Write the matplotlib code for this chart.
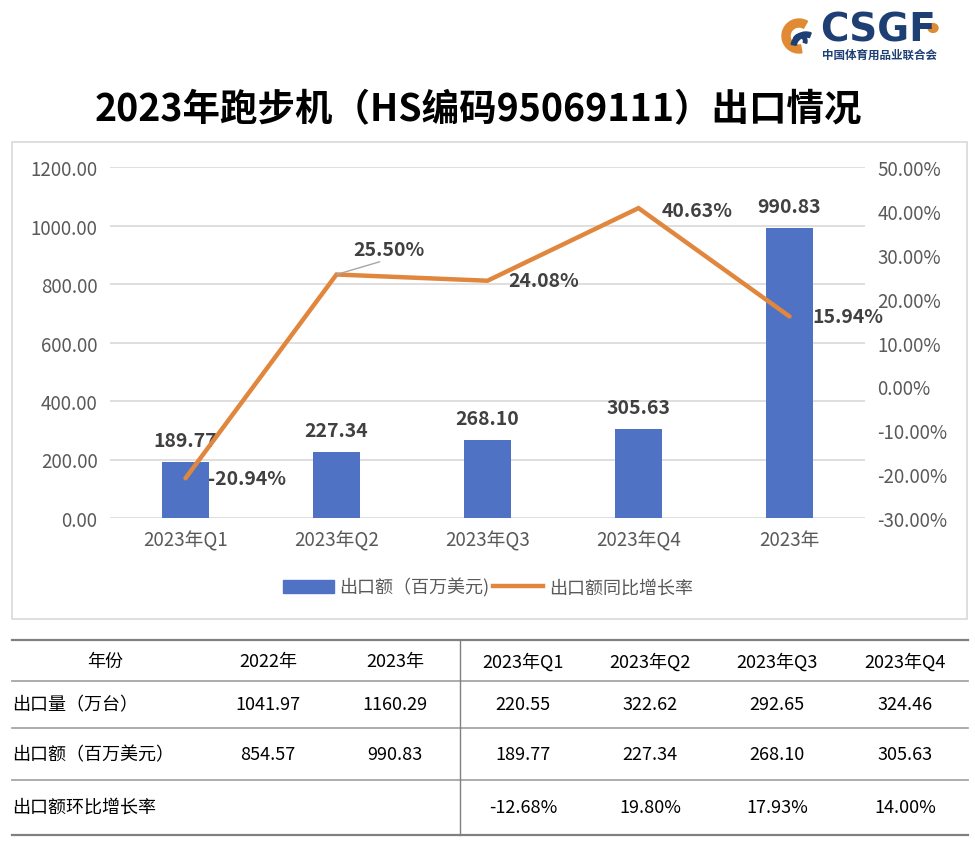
import matplotlib.pyplot as plt
from matplotlib.patches import Rectangle, Wedge, Circle, Patch
from matplotlib.lines import Line2D
from matplotlib.ticker import FuncFormatter

plt.rcParams['font.family'] = ['Noto Sans CJK SC', 'DejaVu Sans']

# chart data
categories = ['2023年Q1', '2023年Q2', '2023年Q3', '2023年Q4', '2023年']
export_value = [189.77, 227.34, 268.10, 305.63, 990.83]   # 百万美元
yoy_growth = [-20.94, 25.50, 24.08, 40.63, 15.94]          # %

# table data
table_header = ['年份', '2022年', '2023年', '2023年Q1', '2023年Q2', '2023年Q3', '2023年Q4']
table_rows = [
    ['出口量（万台）', '1041.97', '1160.29', '220.55', '322.62', '292.65', '324.46'],
    ['出口额（百万美元）', '854.57', '990.83', '189.77', '227.34', '268.10', '305.63'],
    ['出口额环比增长率', '', '', '-12.68%', '19.80%', '17.93%', '14.00%'],
]

W, H = 975, 853
BAR_COLOR = '#4F72C4'
LINE_COLOR = '#E0873D'
TEXT_DARK = '#404040'
TICK_GREY = '#595959'
GRID_GREY = '#D9D9D9'
NAVY = '#1E3F73'
LOGO_ORANGE = '#E08A33'


def fx(x):
    return x / W


def fy(y):
    return 1 - y / H


fig = plt.figure(figsize=(W / 100, H / 100), dpi=100)

# title
fig.text(fx(478), fy(110), '2023年跑步机（HS编码95069111）出口情况',
         fontsize=27, weight='bold', ha='center', va='center', color='black')

# logo (rough)
fig.text(fx(820), fy(31), 'CSGF', fontsize=28, weight='bold', color=NAVY,
         family='DejaVu Sans', ha='left', va='center')
fig.text(fx(822), fy(55), '中国体育用品业联合会', fontsize=8.3, weight='bold',
         color=NAVY, ha='left', va='center')
ax_logo = fig.add_axes([fx(775), fy(65), 50 / W, 55 / H])
ax_logo.set_xlim(775, 825)
ax_logo.set_ylim(65, 10)
ax_logo.axis('off')
ax_logo.add_patch(Wedge((799, 37), 17, 80, 300, width=8, color=LOGO_ORANGE))
ax_logo.add_patch(Wedge((800, 42), 7, 200, 20, width=3.5, color=NAVY))
ax_logo.add_patch(Wedge((806, 48), 15, 190, 290, width=5, color=NAVY))
fig.add_artist(Circle((fx(933), fy(29)), 5 / W, transform=fig.transFigure,
                      color=LOGO_ORANGE))

# chart frame
fig.add_artist(Rectangle((fx(12), fy(620)), (967 - 12) / W, (620 - 143) / H,
                         transform=fig.transFigure, fill=False,
                         ec=GRID_GREY, lw=1.2))

ax = fig.add_axes([fx(110), fy(519), 755 / W, 351 / H])
x = range(len(categories))
ax.bar(x, export_value, width=0.31, color=BAR_COLOR, zorder=2)
ax.set_xlim(-0.5, len(categories) - 0.5)
ax.set_ylim(0, 1200)
ax.set_yticks(range(0, 1201, 200))
ax.yaxis.set_major_formatter(FuncFormatter(lambda v, p: f'{v:.2f}'))
ax.set_xticks(list(x))
ax.set_xticklabels(categories)
ax.grid(axis='y', color=GRID_GREY, lw=1.2, zorder=0)
for s in ax.spines.values():
    s.set_visible(False)
ax.tick_params(length=0, labelsize=13.5, labelcolor=TICK_GREY)
ax.tick_params(axis='y', pad=9)
ax.tick_params(axis='x', pad=8)

for xi, v in zip(x, export_value):
    ax.annotate(f'{v:.2f}', (xi, v), xytext=(0, 12), textcoords='offset pixels',
                ha='center', va='bottom', fontsize=14, weight='bold',
                color=TEXT_DARK)

ax2 = ax.twinx()
ax2.plot(list(x), yoy_growth, color=LINE_COLOR, lw=3.2, zorder=3,
         solid_capstyle='round', solid_joinstyle='miter')
ax2.set_ylim(-30, 50)
ax2.set_yticks(range(-30, 51, 10))
ax2.yaxis.set_major_formatter(FuncFormatter(lambda v, p: f'{v:.2f}%'))
for s in ax2.spines.values():
    s.set_visible(False)
ax2.tick_params(length=0, labelsize=13.5, labelcolor=TICK_GREY, pad=9)

line_label_offsets = [(22, 0), (17, 25), (21, 0), (23, -2), (23, 0)]
for i, (xi, v) in enumerate(zip(x, yoy_growth)):
    dx, dy = line_label_offsets[i]
    kw = {}
    if i == 1:
        kw['arrowprops'] = dict(arrowstyle='-', color='#A6A6A6', lw=1,
                                shrinkA=0, shrinkB=0, relpos=(0.5, 0))
    ax2.annotate(f'{v:.2f}%', (xi, v), xytext=(dx, dy),
                 textcoords='offset pixels', ha='left', va='center',
                 fontsize=14, weight='bold', color=TEXT_DARK, **kw)

handles = [Patch(color=BAR_COLOR), Line2D([], [], color=LINE_COLOR, lw=3.2)]
fig.legend(handles, ['出口额（百万美元)', '出口额同比增长率'],
           loc='center', bbox_to_anchor=(fx(488), fy(588)), ncol=2,
           frameon=False, fontsize=13, handlelength=2.8, handletextpad=0.3,
           columnspacing=0.2, labelcolor=TICK_GREY)

# table below the chart
col_x = [105, 268, 395, 523, 650, 777, 905]
row_y = [662, 705, 755, 808]
line_y = [641, 682, 729, 781, 836]
for i, ly in enumerate(line_y):
    edge = i in (0, len(line_y) - 1)
    fig.add_artist(Line2D([fx(12), fx(968)], [fy(ly), fy(ly)],
                          color='#808080' if edge else '#A6A6A6',
                          lw=1.6 if edge else 1.3))
fig.add_artist(Line2D([fx(460), fx(460)], [fy(641), fy(836)],
                      color='#808080', lw=1))

for cx, label in zip(col_x, table_header):
    fig.text(fx(cx), fy(row_y[0]), label, fontsize=13, ha='center',
             va='center', color='black')
for ry, row in zip(row_y[1:], table_rows):
    fig.text(fx(12), fy(ry), row[0], fontsize=13, ha='left', va='center',
             color='black')
    for cx, cell in zip(col_x[1:], row[1:]):
        fig.text(fx(cx), fy(ry), cell, fontsize=13, ha='center',
                 va='center', color='black')

fig.savefig('out.png', dpi=100, facecolor='white')
